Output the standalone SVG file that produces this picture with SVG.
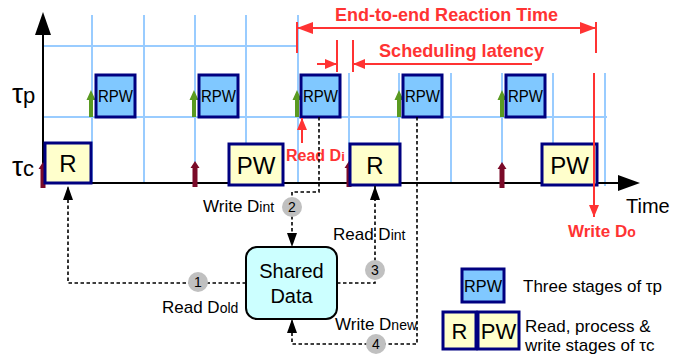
<svg xmlns="http://www.w3.org/2000/svg" width="694" height="358" viewBox="0 0 694 358">
<style>
text{font-family:"Liberation Sans",Arial,sans-serif;fill:#000}
.grid{stroke:#99ccff;stroke-width:2;fill:none}
.rpw{fill:#80c8ff;stroke:#000080;stroke-width:3}
.tc{fill:#ffffcc;stroke:#000080;stroke-width:3}
.red{stroke:#ff3333;stroke-width:2;fill:none}
.redt{fill:#ff3333;font-weight:bold}
.dash{stroke:#000;stroke-width:1.6;stroke-dasharray:3.5,2.5;fill:none}
.num{fill:#c0c0c0}
.numt{font-size:14px;text-anchor:middle}
.lbl{font-size:17px}
.sub{font-size:14px}
.rpwt{font-size:16px;text-anchor:middle}
.big{font-size:24px;text-anchor:middle}
</style>
<defs>
<marker id="ab" viewBox="0 0 14 10" refX="14" refY="5" markerWidth="14" markerHeight="10" markerUnits="userSpaceOnUse" orient="auto"><path d="M0,0 L14,5 L0,10 Z" fill="#000"/></marker>
<marker id="rb" viewBox="0 0 16 12" refX="16" refY="6" markerWidth="16" markerHeight="12" markerUnits="userSpaceOnUse" orient="auto"><path d="M0,0 L16,6 L0,12 Z" fill="#ff3333"/></marker>
<marker id="rs" viewBox="0 0 12 10" refX="12" refY="5" markerWidth="12" markerHeight="10" markerUnits="userSpaceOnUse" orient="auto"><path d="M0,0 L12,5 L0,10 Z" fill="#ff3333"/></marker>
<path id="ga" d="M-2,0 V-17 H-4.5 L0,-27 L4.5,-17 H2 V0 Z" fill="#5a9a20"/>
<path id="da" d="M-2.5,0 V-19 H-4.5 L0,-26 L4.5,-19 H2.5 V0 Z" fill="#7a0a28"/>
</defs>

<g id="grid">
<line class="grid" x1="43" y1="46" x2="298" y2="46"/>
<line class="grid" x1="43" y1="117" x2="607" y2="117"/>
<line class="grid" x1="92" y1="15" x2="92" y2="183"/>
<line class="grid" x1="144" y1="15" x2="144" y2="183"/>
<line class="grid" x1="195" y1="15" x2="195" y2="183"/>
<line class="grid" x1="246" y1="15" x2="246" y2="183"/>
<line class="grid" x1="298" y1="15" x2="298" y2="183"/>
<line class="grid" x1="349" y1="73" x2="349" y2="183"/>
<line class="grid" x1="399" y1="73" x2="399" y2="183"/>
<line class="grid" x1="451" y1="73" x2="451" y2="183"/>
<line class="grid" x1="502" y1="73" x2="502" y2="183"/>
<line class="grid" x1="553" y1="73" x2="553" y2="183"/>
<line class="grid" x1="605" y1="73" x2="605" y2="186"/>
</g>

<g id="axes">
<line x1="43" y1="30" x2="43" y2="184" stroke="#000" stroke-width="2"/>
<path d="M43,12 L51,35 L35,35 Z" fill="#000"/>
<line x1="43" y1="183" x2="622" y2="183" stroke="#000" stroke-width="2"/>
<path d="M640,183 L618,175 L618,191 Z" fill="#000"/>
<text x="12" y="103" font-size="28">τ<tspan font-size="22">p</tspan></text>
<text x="12" y="176" font-size="28">τ<tspan font-size="22">c</tspan></text>
<text x="626" y="213" font-size="20">Time</text>
</g>

<g id="release-arrows">
<use href="#ga" x="91" y="117"/>
<use href="#ga" x="194" y="117"/>
<use href="#ga" x="297" y="117"/>
<use href="#ga" x="399" y="117"/>
<use href="#ga" x="502" y="117"/>
<use href="#da" x="43" y="188"/>
<use href="#da" x="195" y="187"/>
<use href="#da" x="349" y="187"/>
<use href="#da" x="502" y="188"/>
</g>

<g id="rpw1"><rect class="rpw" x="96" y="75" width="39" height="42"/><text class="rpwt" x="115.5" y="102" textLength="35" lengthAdjust="spacingAndGlyphs">RPW</text></g>
<g id="rpw2"><rect class="rpw" x="199" y="75" width="39" height="42"/><text class="rpwt" x="218.5" y="102" textLength="35" lengthAdjust="spacingAndGlyphs">RPW</text></g>
<g id="rpw3"><rect class="rpw" x="301" y="75" width="39" height="42"/><text class="rpwt" x="320.5" y="102" textLength="35" lengthAdjust="spacingAndGlyphs">RPW</text></g>
<g id="rpw4"><rect class="rpw" x="403" y="75" width="39" height="42"/><text class="rpwt" x="422.5" y="102" textLength="35" lengthAdjust="spacingAndGlyphs">RPW</text></g>
<g id="rpw5"><rect class="rpw" x="506" y="75" width="39" height="42"/><text class="rpwt" x="525.5" y="102" textLength="35" lengthAdjust="spacingAndGlyphs">RPW</text></g>

<g id="r1"><rect class="tc" x="45" y="143" width="46" height="40"/><text class="big" x="68" y="172">R</text></g>
<g id="pw1"><rect class="tc" x="229" y="144" width="54" height="41"/><text class="big" x="256" y="174">PW</text></g>
<g id="r2"><rect class="tc" x="350" y="144" width="50" height="41"/><text class="big" x="375" y="174">R</text></g>
<g id="pw2"><rect class="tc" x="542" y="144" width="55" height="41"/><text class="big" x="569.5" y="174">PW</text></g>

<g id="shared-data"><rect x="246" y="247" width="91" height="72" rx="11" fill="#ccffff" stroke="#000" stroke-width="2"/><text x="291.5" y="278" font-size="20" text-anchor="middle">Shared</text><text x="291.5" y="303" font-size="20" text-anchor="middle">Data</text></g>

<g id="annotations">
<line class="red" x1="297" y1="22" x2="297" y2="53"/>
<line class="red" x1="596" y1="22" x2="596" y2="53"/>
<path class="red" d="M447,28 H297" marker-end="url(#rb)"/>
<path class="red" d="M447,28 H596" marker-end="url(#rb)"/>
<text class="redt" x="335" y="21" font-size="19" textLength="223" lengthAdjust="spacingAndGlyphs">End-to-end Reaction Time</text>
<line class="red" x1="337" y1="40" x2="337" y2="72"/>
<line class="red" x1="353" y1="40" x2="353" y2="72"/>
<path class="red" d="M317,64 H337" marker-end="url(#rs)"/>
<path class="red" d="M532,64 H353" marker-end="url(#rs)"/>
<text class="redt" x="379" y="57" font-size="19" textLength="165" lengthAdjust="spacingAndGlyphs">Scheduling latency</text>
<path class="red" d="M302,143 V118" marker-end="url(#rs)"/>
<text class="redt" x="286" y="161" font-size="16">Read D<tspan font-size="13">i</tspan></text>
<path class="red" d="M594,73 V217" marker-end="url(#rs)"/>
<text class="redt" x="568" y="237" font-size="17">Write D<tspan font-size="14">o</tspan></text>
</g>

<g id="connectors">
<path class="dash" d="M246,283 H68 V186" marker-end="url(#ab)"/>
<path class="dash" d="M319,117 V192 H292 V247" marker-end="url(#ab)"/>
<path class="dash" d="M337,283 H375 V186" marker-end="url(#ab)"/>
<path class="dash" d="M417,117 V344 H292 V319" marker-end="url(#ab)"/>
<circle class="num" cx="198" cy="282" r="10"/><text class="numt" x="198" y="287">1</text>
<circle class="num" cx="292" cy="207" r="10"/><text class="numt" x="292" y="212">2</text>
<circle class="num" cx="375" cy="270" r="10"/><text class="numt" x="375" y="275">3</text>
<circle class="num" cx="376" cy="344" r="10"/><text class="numt" x="376" y="349">4</text>
<text class="lbl" x="162" y="313">Read D<tspan class="sub">old</tspan></text>
<text class="lbl" x="203" y="212">Write D<tspan class="sub">int</tspan></text>
<text class="lbl" x="333" y="240">Read D<tspan class="sub">int</tspan></text>
<text class="lbl" x="335" y="330">Write D<tspan class="sub">new</tspan></text>
</g>

<g id="legend-rpw"><rect class="rpw" x="462" y="269" width="42" height="33"/><text class="rpwt" x="483" y="292" textLength="38" lengthAdjust="spacingAndGlyphs">RPW</text><text class="lbl" x="523" y="292">Three stages of τp</text></g>
<g id="legend-tc"><rect class="tc" x="443" y="312" width="33" height="37"/><text x="459.5" y="339" font-size="22" text-anchor="middle">R</text><rect class="tc" x="478" y="312" width="41" height="37"/><text x="498.5" y="339" font-size="22" text-anchor="middle">PW</text><text class="lbl" x="525" y="332">Read, process &amp;</text><text class="lbl" x="525" y="351">write stages of τc</text></g>
</svg>
